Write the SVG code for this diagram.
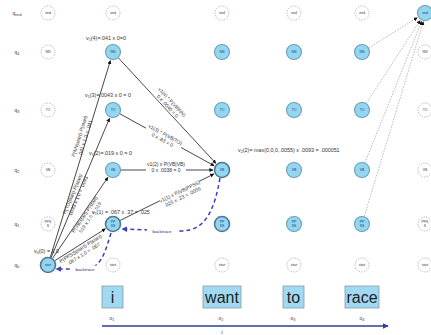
<svg xmlns="http://www.w3.org/2000/svg" width="431" height="335" viewBox="0 0 431 335">
<style>
text{font-family:"Liberation Sans",Arial,sans-serif;fill:#333}
.f{fill:#93d6f1;stroke:#6f9fb6;stroke-width:1.1}
.fd{fill:#93d6f1;stroke:#4d7890;stroke-width:1.6}
.e{fill:#fff;stroke:#a8a8a8;stroke-width:0.8;stroke-dasharray:1.4 1.2}
.nl{font-size:3.4px;fill:#1d3a55;text-anchor:middle}
.rl{font-size:5px;fill:#444;text-anchor:middle}
.lb{font-size:5.4px;fill:#333}
.el{font-size:5px;fill:#333;text-anchor:middle}
.sub{font-size:3.8px}
.edge{stroke:#333;stroke-width:0.9;fill:none;marker-end:url(#ah)}
.dot{stroke:#9a9a9a;stroke-width:0.7;stroke-dasharray:1.5 1.3;fill:none;marker-end:url(#ah)}
.bt{stroke:#3c3fb8;stroke-width:1.5;stroke-dasharray:4 3;fill:none;marker-end:url(#bh)}
.btl{font-size:4.4px;fill:#2a2a6a;text-anchor:middle}
.ob{fill:#9fd9f2;stroke:#8a9aa2;stroke-width:0.8}
.ot{font-size:16px;fill:#222;text-anchor:middle}
</style>
<defs>
<marker id="ah" viewBox="0 0 10 10" refX="9" refY="5" markerWidth="4" markerHeight="4" orient="auto" markerUnits="userSpaceOnUse"><path d="M0,0 L10,5 L0,10 z" fill="#111"/></marker>
<marker id="bh" viewBox="0 0 10 10" refX="9" refY="5" markerWidth="6" markerHeight="6" orient="auto" markerUnits="userSpaceOnUse"><path d="M0,0 L10,5 L0,10 z" fill="#3c3fb8"/></marker>
<marker id="th" viewBox="0 0 10 10" refX="9" refY="5" markerWidth="6" markerHeight="6" orient="auto" markerUnits="userSpaceOnUse"><path d="M0,0 L10,5 L0,10 z" fill="#2d3d9e"/></marker>
</defs>

<!-- row labels -->
<g id="rowlabels">
<text class="rl" x="17" y="15">q<tspan class="sub" dy="1">end</tspan></text>
<text class="rl" x="17" y="54">q<tspan class="sub" dy="1">4</tspan></text>
<text class="rl" x="17" y="112">q<tspan class="sub" dy="1">3</tspan></text>
<text class="rl" x="17" y="172">q<tspan class="sub" dy="1">2</tspan></text>
<text class="rl" x="17" y="226">q<tspan class="sub" dy="1">1</tspan></text>
<text class="rl" x="17" y="267">q<tspan class="sub" dy="1">0</tspan></text>
</g>

<!-- connectors -->
<g id="connectors">
<line class="edge" x1="50.3" y1="257.4" x2="110.4" y2="60.6"/>
<line class="edge" x1="51.1" y1="257.6" x2="109.5" y2="118.3"/>
<line class="edge" x1="52.5" y1="258.4" x2="107.9" y2="177.4"/>
<line class="edge" x1="54.8" y1="260.7" x2="105.4" y2="228.8"/>
<line class="edge" x1="118.4" y1="57.9" x2="215.9" y2="163.4"/>
<line class="edge" x1="120" y1="113.9" x2="214.1" y2="165.7"/>
<line class="edge" x1="121" y1="170" x2="213" y2="170"/>
<line class="edge" x1="120.2" y1="220.4" x2="213.9" y2="174"/>
<line class="dot" x1="368.8" y1="47.8" x2="417.3" y2="17.7"/>
<line class="dot" x1="366.4" y1="103.3" x2="420.1" y2="20.5"/>
<line class="dot" x1="365" y1="162.6" x2="421.7" y2="21.4"/>
<line class="dot" x1="364.3" y1="216.3" x2="423.4" y2="21.6"/>
<path class="bt" d="M220,178 C214,212 205,230 182,231 L122,229"/>
<path class="bt" d="M111,233 C104,256 100,269 84,269 L56,269"/>
</g>

<!-- edge labels -->
<g id="edgelabels">
<g transform="translate(82,137) rotate(-73)"><text class="el" y="-1">P(NN|start)·P(start)</text><text class="el" y="5">.041 x 1.0 = .041</text></g>
<g transform="translate(75,195) rotate(-67)"><text class="el" y="-1">P(TO|start)·P(start)</text><text class="el" y="5">.0043 x 1.0 = .0043</text></g>
<g transform="translate(87,216) rotate(-56)"><text class="el" y="-1">P(VB|start)·P(start)</text><text class="el" y="5">.019 x 1.0 = .019</text></g>
<g transform="translate(82,251) rotate(-32)"><text class="el" y="-1">P(PPSS|start)·P(start)</text><text class="el" y="5">.067 x 1.0 = .067</text></g>
<g transform="translate(170,104) rotate(47)"><rect x="-21" y="-6" width="42" height="12" fill="#fff"/><text class="el" y="-1">v1(4) * P(VB|NN)</text><text class="el" y="5">0 x .0040 = 0</text></g>
<g transform="translate(164,137) rotate(29)"><rect x="-20" y="-6" width="40" height="12" fill="#fff"/><text class="el" y="-1">v1(3) * P(VB|TO)</text><text class="el" y="5">0 x .83 = 0</text></g>
<g transform="translate(166,167)"><rect x="-20" y="-6" width="40" height="12" fill="#fff"/><text class="el" y="-1">v1(2) x P(VB|VB)</text><text class="el" y="5">0 x .0038 = 0</text></g>
<g transform="translate(181,194) rotate(-26)"><rect x="-22" y="-6" width="44" height="12" fill="#fff"/><text class="el" y="-1">v1(1) x P(VB|PPSS)</text><text class="el" y="5">.025 x .23 = .0055</text></g>
<rect x="147" y="227" width="30" height="7" fill="#fff"/><text class="btl" x="162" y="232.5">backtrace</text>
<rect x="72" y="265.5" width="26" height="7" fill="#fff"/><text class="btl" x="85" y="271">backtrace</text>
</g>

<!-- value labels -->
<g id="values">
<text class="lb" x="86" y="40">v<tspan class="sub" dy="1">1</tspan><tspan dy="-1">(4)=.041 x 0=0</tspan></text>
<text class="lb" x="85" y="97">v<tspan class="sub" dy="1">1</tspan><tspan dy="-1">(3)=.0043 x 0 = 0</tspan></text>
<text class="lb" x="89" y="155">v<tspan class="sub" dy="1">1</tspan><tspan dy="-1">(2)=.019 x 0 = 0</tspan></text>
<text class="lb" x="92" y="214">v<tspan class="sub" dy="1">1</tspan><tspan dy="-1">(1) = .067 x .37 = .025</tspan></text>
<text class="lb" x="34" y="253">v<tspan class="sub" dy="1">0</tspan><tspan dy="-1">(0) = 1.0</tspan></text>
<text class="lb" x="238" y="152">v<tspan class="sub" dy="1">2</tspan><tspan dy="-1">(2)= max(0,0,0,.0055) x .0093 = .000051</tspan></text>
</g>

<!-- nodes: column 0 -->
<g id="n0_end"><circle class="e" cx="48" cy="13" r="7"/><text class="nl" x="48" y="14.2">end</text></g>
<g id="n0_NN"><circle class="e" cx="48" cy="52" r="7"/><text class="nl" x="48" y="53.2">NN</text></g>
<g id="n0_TO"><circle class="e" cx="48" cy="110" r="7"/><text class="nl" x="48" y="111.2">TO</text></g>
<g id="n0_VB"><circle class="e" cx="48" cy="170" r="7"/><text class="nl" x="48" y="171.2">VB</text></g>
<g id="n0_PPSS"><circle class="e" cx="48" cy="224" r="7"/><text class="nl" x="48" y="223">PPS</text><text class="nl" x="48" y="227">S</text></g>
<g id="n0_start"><circle class="fd" cx="48" cy="265" r="7.5"/><text class="nl" x="48" y="266.2">start</text></g>
<!-- column 1 -->
<g id="n1_end"><circle class="e" cx="113" cy="13" r="7"/><text class="nl" x="113" y="14.2">end</text></g>
<g id="n1_NN"><circle class="f" cx="113" cy="52" r="7.5"/><text class="nl" x="113" y="53.2">NN</text></g>
<g id="n1_TO"><circle class="f" cx="113" cy="110" r="7.5"/><text class="nl" x="113" y="111.2">TO</text></g>
<g id="n1_VB"><circle class="f" cx="113" cy="170" r="7.5"/><text class="nl" x="113" y="171.2">VB</text></g>
<g id="n1_PPSS"><circle class="fd" cx="113" cy="224" r="7.5"/><text class="nl" x="113" y="223">PP</text><text class="nl" x="113" y="227">SS</text></g>
<g id="n1_start"><circle class="e" cx="113" cy="265" r="7"/><text class="nl" x="113" y="266.2">start</text></g>
<!-- column 2 -->
<g id="n2_end"><circle class="e" cx="222" cy="13" r="7"/><text class="nl" x="222" y="14.2">end</text></g>
<g id="n2_NN"><circle class="f" cx="222" cy="52" r="7.5"/><text class="nl" x="222" y="53.2">NN</text></g>
<g id="n2_TO"><circle class="f" cx="222" cy="110" r="7.5"/><text class="nl" x="222" y="111.2">TO</text></g>
<g id="n2_VB"><circle class="fd" cx="222" cy="170" r="7.5"/><text class="nl" x="222" y="171.2">VB</text></g>
<g id="n2_PPSS"><circle class="fd" cx="222" cy="224" r="7.5"/><text class="nl" x="222" y="223">PP</text><text class="nl" x="222" y="227">SS</text></g>
<g id="n2_start"><circle class="e" cx="222" cy="265" r="7"/><text class="nl" x="222" y="266.2">start</text></g>
<!-- column 3 -->
<g id="n3_end"><circle class="e" cx="294" cy="13" r="7"/><text class="nl" x="294" y="14.2">end</text></g>
<g id="n3_NN"><circle class="f" cx="294" cy="52" r="7.5"/><text class="nl" x="294" y="53.2">NN</text></g>
<g id="n3_TO"><circle class="f" cx="294" cy="110" r="7.5"/><text class="nl" x="294" y="111.2">TO</text></g>
<g id="n3_VB"><circle class="f" cx="294" cy="170" r="7.5"/><text class="nl" x="294" y="171.2">VB</text></g>
<g id="n3_PPSS"><circle class="f" cx="294" cy="224" r="7.5"/><text class="nl" x="294" y="223">PP</text><text class="nl" x="294" y="227">SS</text></g>
<g id="n3_start"><circle class="e" cx="294" cy="265" r="7"/><text class="nl" x="294" y="266.2">start</text></g>
<!-- column 4 -->
<g id="n4_end"><circle class="e" cx="362" cy="13" r="7"/><text class="nl" x="362" y="14.2">end</text></g>
<g id="n4_NN"><circle class="f" cx="362" cy="52" r="7.5"/><text class="nl" x="362" y="53.2">NN</text></g>
<g id="n4_TO"><circle class="f" cx="362" cy="110" r="7.5"/><text class="nl" x="362" y="111.2">TO</text></g>
<g id="n4_VB"><circle class="f" cx="362" cy="170" r="7.5"/><text class="nl" x="362" y="171.2">VB</text></g>
<g id="n4_PPSS"><circle class="f" cx="362" cy="224" r="7.5"/><text class="nl" x="362" y="223">PP</text><text class="nl" x="362" y="227">SS</text></g>
<g id="n4_start"><circle class="e" cx="362" cy="265" r="7"/><text class="nl" x="362" y="266.2">start</text></g>
<!-- column 5 -->
<g id="n5_end"><circle class="f" cx="425" cy="13" r="7.5"/><text class="nl" x="425" y="14.2">end</text></g>
<g id="n5_NN"><circle class="e" cx="425" cy="52" r="7"/><text class="nl" x="425" y="53.2">NN</text></g>
<g id="n5_TO"><circle class="e" cx="425" cy="110" r="7"/><text class="nl" x="425" y="111.2">TO</text></g>
<g id="n5_VB"><circle class="e" cx="425" cy="170" r="7"/><text class="nl" x="425" y="171.2">VB</text></g>
<g id="n5_PPSS"><circle class="e" cx="425" cy="224" r="7"/><text class="nl" x="425" y="223">PPS</text><text class="nl" x="425" y="227">S</text></g>
<g id="n5_start"><circle class="e" cx="425" cy="265" r="7"/><text class="nl" x="425" y="266.2">start</text></g>

<!-- observations -->
<g id="obs_i"><rect class="ob" x="102" y="286" width="21" height="22"/><text class="ot" x="112.5" y="303">i</text></g>
<g id="obs_want"><rect class="ob" x="203" y="286" width="38" height="22"/><text class="ot" x="222" y="303">want</text></g>
<g id="obs_to"><rect class="ob" x="283" y="286" width="21" height="22"/><text class="ot" x="293.5" y="303">to</text></g>
<g id="obs_race"><rect class="ob" x="345" y="286" width="34" height="22"/><text class="ot" x="362" y="303">race</text></g>
<g id="olabels">
<text class="rl" x="112" y="320">o<tspan class="sub" dy="1">1</tspan></text>
<text class="rl" x="221" y="320">o<tspan class="sub" dy="1">2</tspan></text>
<text class="rl" x="293" y="320">o<tspan class="sub" dy="1">3</tspan></text>
<text class="rl" x="362" y="320">o<tspan class="sub" dy="1">4</tspan></text>
</g>
<g id="timeaxis">
<line x1="102" y1="326" x2="388" y2="326" stroke="#2d3d9e" stroke-width="1.4" marker-end="url(#th)"/>
<text class="rl" x="222" y="334">t</text>
</g>
</svg>
